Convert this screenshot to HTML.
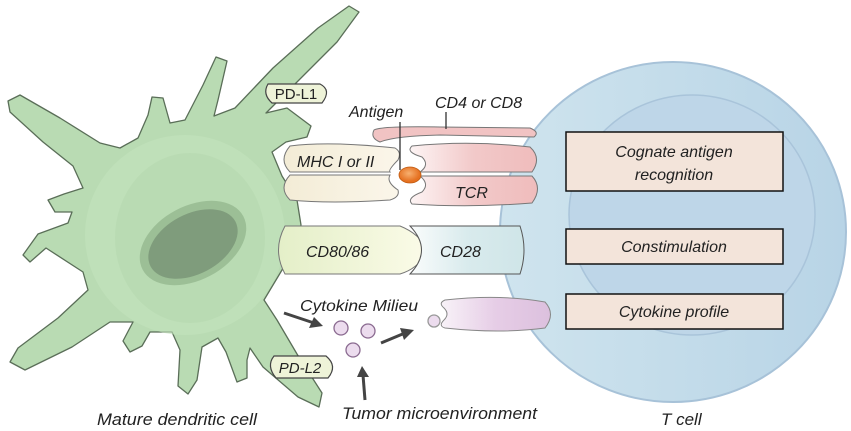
<!DOCTYPE html>
<html><head><meta charset="utf-8"><style>
html,body{margin:0;padding:0;background:#fff}
svg{display:block}
text{font-family:"Liberation Sans",sans-serif;font-style:italic;fill:#222}
</style></head><body>
<svg width="851" height="431" viewBox="0 0 851 431" xmlns="http://www.w3.org/2000/svg">
<defs>
<linearGradient id="tc" x1="0" x2="1"><stop offset="0" stop-color="#cfe4ee"/><stop offset="1" stop-color="#b8d4e6"/></linearGradient>
<linearGradient id="mhc" x1="0" x2="1"><stop offset="0" stop-color="#f3ecd6"/><stop offset="1" stop-color="#fbf6ea"/></linearGradient>
<linearGradient id="tcr" x1="0" x2="1"><stop offset="0" stop-color="#fdf4f4"/><stop offset="0.5" stop-color="#f2c9c9"/><stop offset="1" stop-color="#efbcbc"/></linearGradient>
<linearGradient id="cd80" x1="0" x2="1"><stop offset="0" stop-color="#e4efc8"/><stop offset="1" stop-color="#fbfbe8"/></linearGradient>
<linearGradient id="cd28" x1="0" x2="1"><stop offset="0" stop-color="#fafcfc"/><stop offset="0.5" stop-color="#d9ebed"/><stop offset="1" stop-color="#cfe5e8"/></linearGradient>
<linearGradient id="cyr" x1="0" x2="1"><stop offset="0" stop-color="#f8f2f8"/><stop offset="0.5" stop-color="#e6cde6"/><stop offset="1" stop-color="#dcc0de"/></linearGradient>
<radialGradient id="ag" cx="0.45" cy="0.4"><stop offset="0" stop-color="#f7b070"/><stop offset="1" stop-color="#e57020"/></radialGradient>
</defs>

<!-- T cell -->
<ellipse cx="673" cy="232" rx="173" ry="170" fill="url(#tc)" stroke="#a7c2d8" stroke-width="2"/>
<ellipse cx="692" cy="215" rx="123" ry="120" fill="#bed6e8" stroke="#a9c4da" stroke-width="1.5"/>

<!-- Dendritic cell -->
<path d="M8,101 L20,95 L60,118 L100,143 L120,148 L138,138 L148,115 L152,97 L163,98 L170,123 L185,120 L203,85 L216,57 L227,61 L218,100 L214,116 L235,108 L273,68 L318,28 L349,6 L359,12 L337,42 L292,87 L266,113 L287,108 L311,126 L307,137 L286,142 L272,152 L282,176 L297,200 L301,225 L294,250 L282,270 L270,290 L264,300 L277,320 L297,354 L322,393 L319,407 L298,397 L263,367 L250,348 L247,360 L247,378 L237,382 L226,352 L218,338 L202,347 L197,380 L188,394 L178,386 L180,350 L172,332 L150,332 L142,346 L130,352 L123,341 L133,322 L110,322 L72,347 L25,370 L10,362 L18,348 L58,318 L88,290 L83,272 L46,248 L30,262 L23,255 L38,234 L68,223 L72,212 L55,212 L48,200 L64,194 L83,188 L73,166 L43,142 L10,112 Z" fill="#b9dbb3" stroke="#5a6e58" stroke-width="1.3" stroke-linejoin="round"/>
<ellipse cx="185" cy="235" rx="100" ry="100" fill="#c3e2bd" opacity="0.6"/>
<ellipse cx="190" cy="238" rx="75" ry="85" fill="#b7d9b0" opacity="0.7"/>
<ellipse cx="193" cy="243" rx="57" ry="37" transform="rotate(-28 193 243)" fill="#9cbf96"/>
<ellipse cx="193" cy="244" rx="48" ry="30" transform="rotate(-28 193 244)" fill="#7f9c7c"/>

<!-- PD-L1 / PD-L2 -->
<path d="M268,84 L320,84 Q332,90 322,103 L272,103 Q262,94 268,84 Z" fill="#eef3d8" stroke="#444" stroke-width="1.2"/>
<text x="296" y="99" font-size="15" text-anchor="middle" style="font-style:normal">PD-L1</text>
<path d="M274,356 L326,356 Q338,366 328,378 L276,378 Q266,366 274,356 Z" fill="#eef3d8" stroke="#444" stroke-width="1.2"/>
<text x="300" y="373" font-size="15" text-anchor="middle">PD-L2</text>

<!-- CD4/CD8 -->
<path d="M374,130 Q380,126 440,127 L530,128 Q540,132 534,137 L440,135 Q395,136 380,142 Q370,138 374,130 Z" fill="#f1c3c3" stroke="#777" stroke-width="1"/>
<line x1="446" y1="112" x2="446" y2="129" stroke="#333" stroke-width="1.3"/>
<text x="435" y="108" font-size="16">CD4 or CD8</text>

<!-- MHC -->
<path d="M290,146 Q330,141 395,148 Q402,152 398,160 Q388,170 390,172 L290,172 Q278,160 290,146 Z" fill="url(#mhc)" stroke="#777" stroke-width="1"/>
<path d="M290,175 L390,175 Q386,182 398,190 Q400,197 390,200 Q330,204 290,200 Q278,188 290,175 Z" fill="url(#mhc)" stroke="#777" stroke-width="1"/>
<text x="297" y="167" font-size="16">MHC I or II</text>
<!-- TCR -->
<path d="M412,146 Q470,140 530,147 Q542,158 532,172 L420,172 Q430,165 422,157 Q405,152 412,146 Z" fill="url(#tcr)" stroke="#777" stroke-width="1"/>
<path d="M420,176 L532,176 Q543,188 532,203 Q470,208 412,204 Q406,198 422,192 Q430,184 420,176 Z" fill="url(#tcr)" stroke="#777" stroke-width="1"/>
<text x="455" y="198" font-size="16">TCR</text>
<!-- Antigen -->
<ellipse cx="410" cy="175" rx="11" ry="8" fill="url(#ag)" stroke="#c05a10" stroke-width="0.8"/>
<line x1="400" y1="122" x2="400" y2="170" stroke="#333" stroke-width="1.3"/>
<text x="349" y="117" font-size="16">Antigen</text>

<!-- CD80/86 & CD28 -->
<path d="M285,226 L400,226 Q420,234 427,250 Q420,268 400,274 L285,274 Q272,250 285,226 Z" fill="url(#cd80)" stroke="#777" stroke-width="1"/>
<path d="M410,226 L520,226 Q528,250 520,274 L410,274 Q433,250 410,226 Z" fill="url(#cd28)" stroke="#555" stroke-width="1"/>
<text x="306" y="257" font-size="16">CD80/86</text>
<text x="440" y="257" font-size="16">CD28</text>

<!-- Cytokine -->
<text x="300" y="311" font-size="16" textLength="118" lengthAdjust="spacingAndGlyphs">Cytokine Milieu</text>
<circle cx="341" cy="328" r="7" fill="#ecdcee" stroke="#8a6a90" stroke-width="1.3"/>
<circle cx="368" cy="331" r="7" fill="#ecdcee" stroke="#8a6a90" stroke-width="1.3"/>
<circle cx="353" cy="350" r="7" fill="#ecdcee" stroke="#8a6a90" stroke-width="1.3"/>
<circle cx="434" cy="321" r="6" fill="#ecdcee" stroke="#999" stroke-width="1.3"/>
<path d="M445,300 Q500,294 545,302 Q556,314 545,328 Q500,334 445,328 Q438,326 444,320 Q450,314 444,308 Q438,303 445,300 Z" fill="url(#cyr)" stroke="#888" stroke-width="1"/>
<g stroke="#444" stroke-width="3" fill="#444">
<line x1="284" y1="313" x2="314" y2="323"/>
<line x1="381" y1="343" x2="405" y2="333"/>
<line x1="365" y1="400" x2="363" y2="375"/>
</g>
<polygon points="323,326 309,328 314,317" fill="#444"/>
<polygon points="414,330 404,340 400,328" fill="#444"/>
<polygon points="362,366 357,377 369,377" fill="#444"/>

<!-- Boxes -->
<g fill="#f3e4da" stroke="#111" stroke-width="1.5">
<rect x="566" y="132" width="217" height="59"/>
<rect x="566" y="229" width="217" height="35"/>
<rect x="566" y="294" width="217" height="35"/>
</g>
<text x="674" y="157" font-size="16" text-anchor="middle">Cognate antigen</text>
<text x="674" y="180" font-size="16" text-anchor="middle">recognition</text>
<text x="674" y="252" font-size="16" text-anchor="middle">Constimulation</text>
<text x="674" y="317" font-size="16" text-anchor="middle">Cytokine profile</text>

<text x="97" y="425" font-size="17" textLength="160" lengthAdjust="spacingAndGlyphs">Mature dendritic cell</text>
<text x="342" y="419" font-size="17" textLength="195" lengthAdjust="spacingAndGlyphs">Tumor microenvironment</text>
<text x="661" y="425" font-size="17">T cell</text>
</svg>
</body></html>
